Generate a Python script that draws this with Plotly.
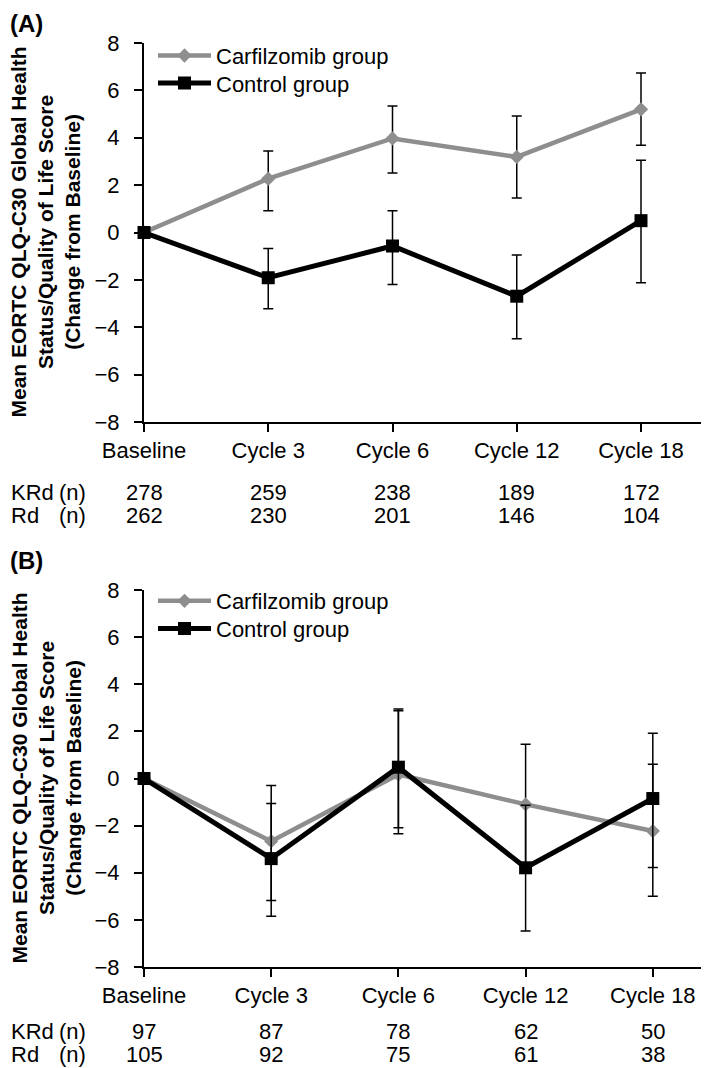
import plotly.graph_objects as go

# the page adds an 8px body margin, so the figure is drawn 8px smaller
# and every page position below is shifted by OFF
OFF = 8
W, H = 709 - OFF, 1068 - OFF

# categories and n at risk
categories = ["Baseline", "Cycle 3", "Cycle 6", "Cycle 12", "Cycle 18"]
x_idx = [0, 1, 2, 3, 4]

# panel A
a_carf = [0, 2.27, 3.97, 3.19, 5.2]
a_carf_hi = [0, 3.44, 5.34, 4.92, 6.73]
a_carf_lo = [0, 0.92, 2.51, 1.46, 3.68]
a_ctrl = [0, -1.91, -0.57, -2.69, 0.5]
a_ctrl_hi = [0, -0.68, 0.92, -0.95, 3.05]
a_ctrl_lo = [0, -3.22, -2.2, -4.49, -2.12]
a_n_krd = [278, 259, 238, 189, 172]
a_n_rd = [262, 230, 201, 146, 104]

# panel B
b_carf = [0, -2.66, 0.17, -1.1, -2.23]
b_carf_hi = [0, -0.3, 2.88, 1.45, 0.6]
b_carf_lo = [0, -5.18, -2.34, -3.65, -5.0]
b_ctrl = [0, -3.4, 0.48, -3.79, -0.85]
b_ctrl_hi = [0, -1.06, 2.95, -1.13, 1.92]
b_ctrl_lo = [0, -5.85, -2.09, -6.47, -3.78]
b_n_krd = [97, 87, 78, 62, 50]
b_n_rd = [105, 92, 75, 61, 38]

y_ticks = [-8, -6, -4, -2, 0, 2, 4, 6, 8]

GRAY = "#8e8e8e"
FONT = "Liberation Sans, Arial, sans-serif"
FS = 22


def px(v):
    return max(v - OFF, 0) / W


def py(v):
    return 1 - (v - OFF) / H


def err(y, hi, lo):
    return dict(type="data", symmetric=False,
                array=[h - v for h, v in zip(hi, y)],
                arrayminus=[v - l for v, l in zip(y, lo)],
                color="black", thickness=1.5, width=5)


fig = go.Figure()

# one legend per entry so the rows sit where the reference has them
panels = [
    ("x", "y", ("legend", "legend2"), a_carf, a_carf_hi, a_carf_lo, a_ctrl, a_ctrl_hi, a_ctrl_lo),
    ("x2", "y2", ("legend3", "legend4"), b_carf, b_carf_hi, b_carf_lo, b_ctrl, b_ctrl_hi, b_ctrl_lo),
]
for xa, ya, lg, c, chi, clo, k, khi, klo in panels:
    fig.add_trace(go.Scatter(
        x=x_idx, y=c, xaxis=xa, yaxis=ya, legend=lg[0], name="Carfilzomib group",
        mode="lines+markers", line=dict(color=GRAY, width=4.5),
        marker=dict(symbol="diamond", size=11, color=GRAY),
        error_y=err(c, chi, clo), cliponaxis=False))
    fig.add_trace(go.Scatter(
        x=x_idx, y=k, xaxis=xa, yaxis=ya, legend=lg[1], name="Control group",
        mode="lines+markers", line=dict(color="black", width=5),
        marker=dict(symbol="square", size=13, color="black"),
        error_y=err(k, khi, klo), cliponaxis=False))

xax = dict(tickmode="array", tickvals=x_idx, ticktext=categories,
           showline=True, linecolor="black", linewidth=2, automargin=False,
           ticks="outside", ticklen=8, tickwidth=1.5, tickcolor="black",
           showgrid=False, zeroline=False, ticklabelstandoff=0,
           tickfont=dict(size=FS, color="black"))
yax = dict(range=[-8, 8], tickvals=y_ticks, showline=True, linecolor="black",
           linewidth=2, ticks="outside", ticklen=8, tickwidth=1.5, automargin=False,
           tickcolor="black", showgrid=False, zeroline=False,
           ticklabelstandoff=10, tickfont=dict(size=FS, color="black"))


def leg(ypage):
    return dict(x=px(153), y=py(ypage), xanchor="left", yanchor="middle",
                bgcolor="rgba(0,0,0,0)", itemwidth=53,
                font=dict(size=FS, color="black"))


x0 = px(144)
fig.update_layout(
    template="none",
    width=W, height=H, margin=dict(l=0, r=0, t=0, b=0, pad=0, autoexpand=False),
    paper_bgcolor="white", plot_bgcolor="white",
    font=dict(family=FONT, size=FS, color="black"),
    xaxis=dict(xax, domain=[x0, 1], range=[0, (709 - 144) / 124.25], anchor="y"),
    yaxis=dict(yax, domain=[py(422), py(43)], anchor="x"),
    xaxis2=dict(xax, domain=[x0, 1], range=[0, (709 - 144) / 127.2], anchor="y2"),
    yaxis2=dict(yax, domain=[py(967), py(590)], anchor="x2"),
    legend=leg(55.7), legend2=leg(83.3),
    legend3=leg(601), legend4=leg(628.6),
    showlegend=True,
)

title = ("<b>Mean EORTC QLQ-C30 Global Health<br>Status/Quality of Life Score"
         "<br>(Change from Baseline)</b>")
ann = []
for lab, ytop, ymid, xa, nk, nr, xlab in [
        ("(A)", 8, 232.5, "x", a_n_krd, a_n_rd, (493, 515)),
        ("(B)", 545, 778.5, "x2", b_n_krd, b_n_rd, (1031, 1054))]:
    ann.append(dict(text="<b>" + lab + "</b>", x=px(5), y=py(ytop), xref="paper",
                    yref="paper", xanchor="left", yanchor="top",
                    showarrow=False, font=dict(size=24)))
    ann.append(dict(text=title, x=px(46), y=py(ymid), xref="paper", yref="paper",
                    xanchor="center", yanchor="middle", textangle=-90,
                    showarrow=False, font=dict(size=21)))
    ann.append(dict(text="KRd", x=px(9), y=py(xlab[0]), xref="paper", yref="paper",
                    xanchor="left", yanchor="middle", showarrow=False))
    ann.append(dict(text="Rd", x=px(9), y=py(xlab[1]), xref="paper", yref="paper",
                    xanchor="left", yanchor="middle", showarrow=False))
    for yy in xlab:
        ann.append(dict(text="(n)", x=px(57), y=py(yy), xref="paper", yref="paper",
                        xanchor="left", yanchor="middle", showarrow=False))
    for i, (a, b) in enumerate(zip(nk, nr)):
        ann.append(dict(text=str(a), x=i, y=py(xlab[0]), xref=xa, yref="paper",
                        xanchor="center", yanchor="middle", showarrow=False))
        ann.append(dict(text=str(b), x=i, y=py(xlab[1]), xref=xa, yref="paper",
                        xanchor="center", yanchor="middle", showarrow=False))
fig.update_layout(annotations=ann)

fig.write_html("out.html")
